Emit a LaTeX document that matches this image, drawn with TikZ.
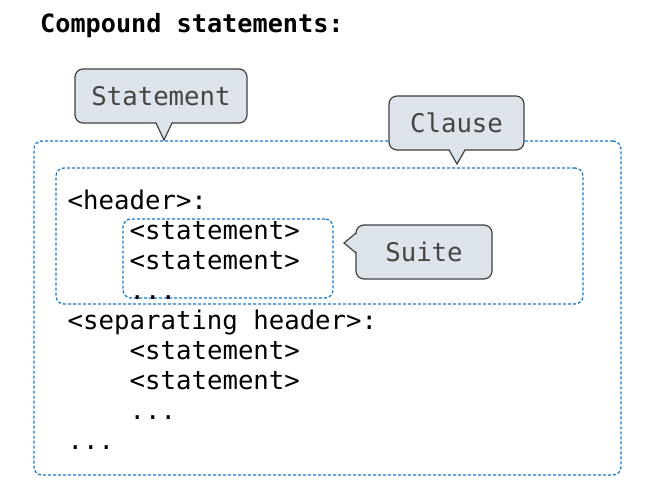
\documentclass[tikz,border=0pt]{standalone}
\usepackage{fontspec}
\setmonofont{DejaVu Sans Mono}
\definecolor{boxblue}{RGB}{20,122,204}
\definecolor{balloonfill}{RGB}{221,227,235}
\definecolor{balloonline}{RGB}{64,64,64}
\definecolor{balloontext}{RGB}{68,68,68}
\newcommand\codefont{\ttfamily\fontsize{25.7pt}{30pt}\selectfont}
\tikzset{
  box/.style={draw=boxblue, line width=1.3pt, dash pattern=on 3pt off 2pt,
    rounded corners=8pt, inner sep=0pt},
  code/.style={anchor=base west, inner sep=0pt, font=\codefont},
  balloon/.style={draw=balloonline, fill=balloonfill, line width=1.2pt,
    rounded corners=8pt, text=balloontext, font=\codefont,
    minimum height=54pt, inner sep=0pt},
  tipfill/.style={fill=balloonfill},
  tipline/.style={draw=balloonline, line width=1.2pt, line join=miter},
}
\begin{document}
\begin{tikzpicture}[x=1pt,y=-1pt]
\useasboundingbox (0,0) rectangle (650,492);
\node[code, font=\ttfamily\bfseries\fontsize{25.2pt}{30pt}\selectfont] (title) at (40,33) {Compound statements:};
% dotted boxes
\node[box, minimum width=587pt, minimum height=334pt] (outer) at (327.5,308) {};
\node[box, minimum width=527pt, minimum height=136pt] (clause) at (319.5,236) {};
\node[box, minimum width=210pt, minimum height=79pt] (suite) at (228,258.5) {};
% code lines
\node[code] (header) at (67.5,209) {<header>:};
\node[code] (stmtA) at (129.5,239) {<statement>};
\node[code] (stmtB) at (129.5,269) {<statement>};
\node[code] (dotsA) at (129.5,299) {...};
\node[code] (sephead) at (67.5,329) {<separating header>:};
\node[code] (stmtC) at (129.5,359) {<statement>};
\node[code] (stmtD) at (129.5,389) {<statement>};
\node[code] (dotsB) at (129.5,419) {...};
\node[code] (dotsC) at (67.5,449) {...};
% balloons
\node[balloon, minimum width=172pt] (statement) at (161,96) {Statement};
\fill[tipfill] (156,121) -- (164,140) -- (172,121) -- cycle;
\draw[tipline] (156,123) -- (164,140) -- (172,123);
\node[balloon, minimum width=135pt] (clausetag) at (456.5,123) {Clause};
\fill[tipfill] (449,148) -- (457,164) -- (465,148) -- cycle;
\draw[tipline] (449,150) -- (457,164) -- (465,150);
\node[balloon, minimum width=136pt] (suitetag) at (424,252) {Suite};
\fill[tipfill] (358,233) -- (344,243) -- (358,253) -- cycle;
\draw[tipline] (356,233) -- (344,243) -- (356,253);
\end{tikzpicture}
\end{document}
